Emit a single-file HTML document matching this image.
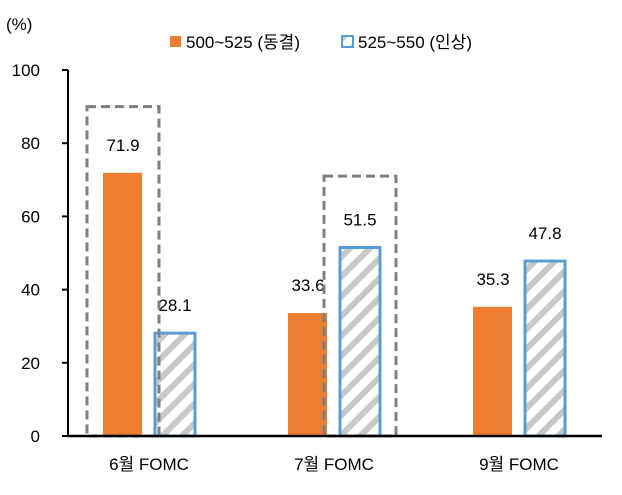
<!DOCTYPE html>
<html><head><meta charset="utf-8"><style>
body{margin:0;background:#fff}
text{font-family:"Liberation Sans","Noto Sans CJK KR",sans-serif;fill:#000}
</style></head><body>
<svg width="622" height="490" viewBox="0 0 622 490">
<defs>
<pattern id="hatch" patternUnits="userSpaceOnUse" width="14" height="14" patternTransform="rotate(45)">
<rect width="14" height="14" fill="#fff"/>
<rect x="0" y="0" width="6" height="14" fill="#c8c8c8"/>
</pattern>
</defs>
<text x="6" y="30" font-size="17">(%)</text>
<g>
<rect x="170" y="36" width="11" height="11" fill="#ed7d31"/>
<text x="186" y="48" font-size="17">500~525 (동결)</text>
<rect x="342" y="36" width="11" height="11" fill="url(#hatch)" stroke="#5b9bd5" stroke-width="2"/>
<text x="358" y="48" font-size="17">525~550 (인상)</text>
</g>
<g id="axes"></g>
<g id="marks"></g>
</svg>
<script>
const categories=["6월 FOMC","7월 FOMC","9월 FOMC"];
const holdValues=[71.9,33.6,35.3];
const hikeValues=[28.1,51.5,47.8];
const yTicks=[0,20,40,60,80,100];
const highlightTops=[90,71];
const highlightSeries=["hold","hike"];
const NS="http://www.w3.org/2000/svg";
const y0=436,pxPer=3.66;
const yS=v=>y0-v*pxPer;
const xS=i=>149+i*185;
function mk(t,a,p){const e=document.createElementNS(NS,t);for(const k in a)e.setAttribute(k,a[k]);p.appendChild(e);return e;}
const axes=document.getElementById('axes'),marks=document.getElementById('marks');
let l=mk('line',{x1:68,y1:yS(100),x2:68,y2:y0,stroke:'#000','stroke-width':2},axes);


yTicks.forEach(t=>{
 let tk=mk('line',{x1:62,x2:68,y1:yS(t),y2:yS(t),stroke:'#000','stroke-width':2},axes);
 
 
 let tx=mk('text',{x:40,y:yS(t)+6,'font-size':17,'text-anchor':'end'},axes);
 tx.textContent=t;
 
 
});
categories.forEach((c,i)=>{
 const cx=xS(i);
 let o=mk('rect',{x:cx-46,y:yS(holdValues[i]),width:39,height:holdValues[i]*pxPer,fill:'#ed7d31'},marks);
 
 
 let h=mk('rect',{x:cx+6,y:yS(hikeValues[i]),width:40,height:hikeValues[i]*pxPer,fill:'url(#hatch)',stroke:'#5b9bd5','stroke-width':3},marks);
 
 
 [[holdValues[i],cx-26],[hikeValues[i],cx+26]].forEach(([v,x])=>{
  let t=mk('text',{x:x,y:yS(v)-22,'font-size':17,'text-anchor':'middle'},marks);
  t.textContent=v.toFixed(1);
  
  
 });
 let ct=mk('text',{x:cx,y:470,'font-size':17,'text-anchor':'middle'},marks);
 ct.textContent=c;
 
 
});
highlightTops.forEach((top,i)=>{
 const cx=xS(i)+(highlightSeries[i]==='hold'?-26:26);
 let b=mk('rect',{x:cx-36,y:yS(top),width:72,height:top*pxPer,fill:'none',stroke:'#7f7f7f','stroke-width':3,'stroke-dasharray':'9 5'},marks);
 
 
});
let xa=mk('line',{x1:68,y1:y0,x2:602,y2:y0,stroke:'#000','stroke-width':2.5},marks);


</script>
</body></html>
